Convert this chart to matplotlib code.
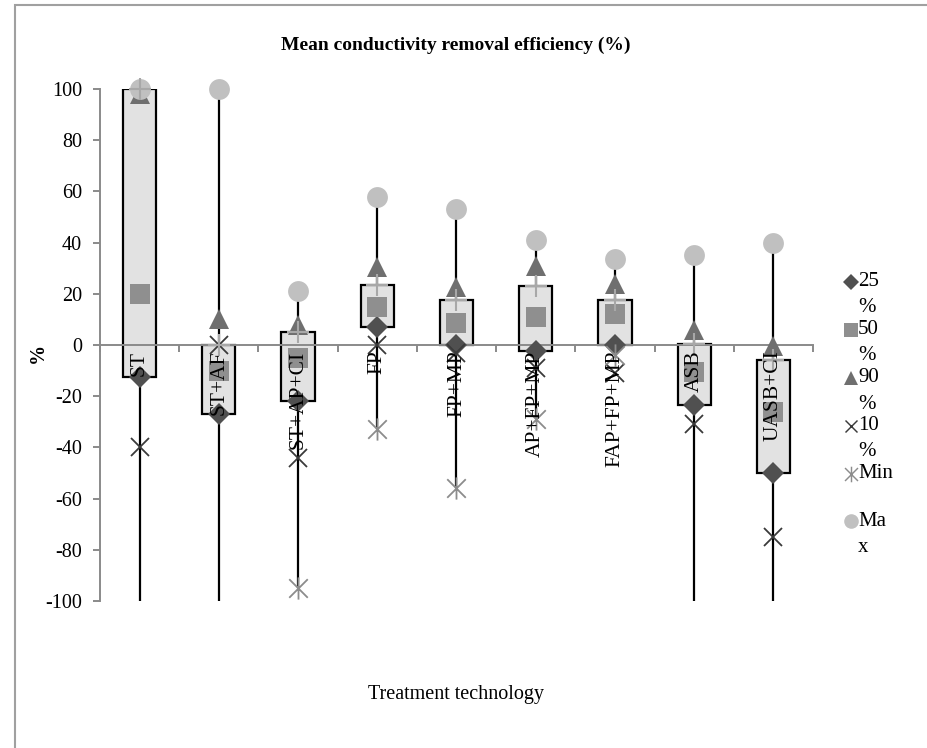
import numpy as np
import matplotlib
matplotlib.use("Agg")
import matplotlib.pyplot as plt
from matplotlib.path import Path
from matplotlib.patches import Rectangle

plt.rcParams['font.family'] = ['Liberation Serif', 'DejaVu Serif']
plt.rcParams['axes.unicode_minus'] = False

categories = ['ST', 'ST+AF', 'ST+AP+CI', 'FP', 'FP+MP', 'AP+FP+MP',
              'FAP+FP+MP', 'ASB', 'UASB+CI']
p25 = [-12.5, -27, -22, 7, 0, -2.5, 0, -23.5, -50]
p50 = [20, -10, -5, 15, 8.5, 11, 12, -10.5, -26]
p75 = [100, 0, 5, 23.5, 17.5, 23, 17.5, 0.5, -6]
p90 = [98, 10, 8, 30.5, 22.5, 31, 24, 6, -0.5]
p10 = [-40, 0, -44, 0, -3, -9, -11, -31, -75]
vmin = [-150, -150, -95, -33, -56, -29, -4, -150, -150]
vmax = [100, 100, 21, 58, 53, 41, 33.5, 35, 40]

legend_labels = ['25 %', '50 %', '90 %', '10 %', 'Min', 'Max']
legend_wrapped = ['25\n%', '50\n%', '90\n%', '10\n%', 'Min', 'Ma\nx']

# excel style asterisk: an x with a vertical bar through it
star = Path([(-0.5, -0.5), (0.5, 0.5), (-0.5, 0.5), (0.5, -0.5), (0, -0.6), (0, 0.6)],
            [Path.MOVETO, Path.LINETO, Path.MOVETO, Path.LINETO, Path.MOVETO, Path.LINETO])

styles = [
    dict(marker='D', color='#505050', ms=11, mew=0),
    dict(marker='s', color='#8f8f8f', ms=14, mew=0),
    dict(marker='^', color='#6f6f6f', ms=15, mew=0),
    dict(marker='x', color='#3a3a3a', ms=13, mew=1.3),
    dict(marker=star, color='#8c8c8c', ms=16, mew=1.3),
    dict(marker='o', color='#c0c0c0', ms=15, mew=0),
]

fig = plt.figure(figsize=(9.28, 7.48), dpi=100)
ax = fig.add_axes([100 / 928, 1 - 601 / 748, 713 / 928, 512 / 748])

x = np.arange(1, len(categories) + 1)

# min-max lines
lo = np.maximum(vmin, -100)
ax.vlines(x, lo, vmax, color='black', lw=1.6, zorder=1)

# boxes between 25 % and 75 %
w = 0.42
for xi, a, b in zip(x, p25, p75):
    ax.add_patch(Rectangle((xi - w / 2, a), w, b - a, facecolor='#e2e2e2',
                           edgecolor='black', lw=1.6, zorder=2))

series = [p25, p50, p90, p10, vmin, vmax]
for vals, st in zip(series, styles):
    v = np.array(vals, dtype=float)
    v[v < -100] = np.nan
    ax.plot(x, v, ls='none', marker=st['marker'], ms=st['ms'], color=st['color'],
            mec=st['color'], mew=st['mew'], clip_on=False, zorder=3)

# 75 % marker, not in legend
ax.plot(x, p75, ls='none', marker='+', ms=16, mew=1.5, color='#a8a8a8',
        clip_on=False, zorder=4)

for xi, lab in zip(x, categories):
    ax.annotate(lab, (xi, 0), xytext=(0, -4), textcoords='offset points',
                rotation=90, ha='center', va='top', fontsize=15.5, zorder=6)

ax.set_xlim(0.5, len(categories) + 0.5)
ax.set_ylim(-100, 100)
ax.set_yticks(np.arange(-100, 101, 20))
ax.set_xticks(np.arange(0.5, len(categories) + 1, 1))
ax.set_xticklabels([])
for s in ['top', 'right']:
    ax.spines[s].set_visible(False)
ax.spines['bottom'].set_position(('data', 0))
ax.spines['left'].set_color('#8a8a8a')
ax.spines['bottom'].set_color('#8a8a8a')
ax.spines['left'].set_linewidth(1.4)
ax.spines['bottom'].set_linewidth(1.4)
ax.tick_params(axis='y', colors='#8a8a8a', labelcolor='black', labelsize=14.5,
               length=5, width=1.4, pad=8)
ax.tick_params(axis='x', colors='#8a8a8a', length=5, width=1.4, direction='out')
ax.patch.set_visible(False)

fig.text(456 / 928, 1 - 45 / 748, 'Mean conductivity removal efficiency (%)',
         ha='center', va='center', fontsize=14, fontweight='bold')
fig.text(456 / 928, 1 - 695 / 748, 'Treatment technology', ha='center',
         va='center', fontsize=14.5)
fig.text(38 / 928, 1 - 353 / 748, '%', ha='center', va='center', rotation=90,
         fontsize=14.5, fontweight='bold')

# legend drawn by hand so the marker sits on the first line of wrapped text
leg_y = [282, 330, 378, 426, 474, 521]
for lab, st, yy in zip(legend_wrapped, styles, leg_y):
    fy = 1 - yy / 748
    ms = st['ms'] * 0.7
    fig.add_artist(plt.Line2D([851 / 928], [fy], ls='none', marker=st['marker'],
                              ms=ms, color=st['color'], mec=st['color'],
                              mew=st['mew'] * 0.8))
    for k, line in enumerate(lab.split('\n')):
        fig.text(858 / 928, fy - k * 26 / 748, line, ha='left', va='center',
                 fontsize=15)

# chart area border (only left and top edges are inside the picture)
fig.add_artist(Rectangle((15 / 928, -0.1), 2, 1.1 - 5 / 748, transform=fig.transFigure,
                         facecolor='none', edgecolor='#a0a0a0', lw=1.5))

fig.savefig('out.png', dpi=100)
